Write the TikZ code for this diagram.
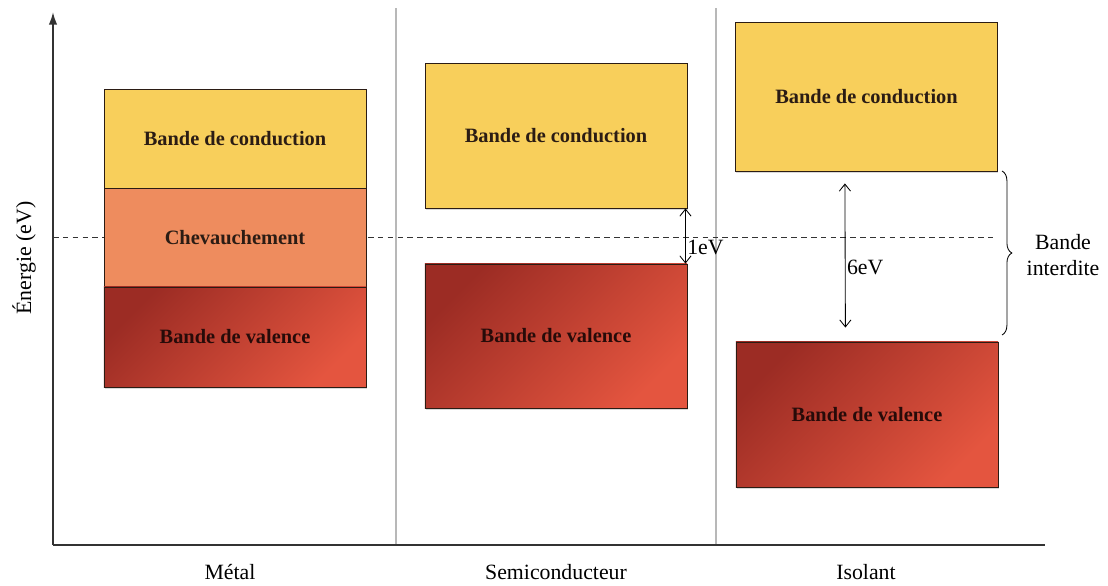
\documentclass[tikz,border=0pt]{standalone}
\usepackage{fontspec}
\setmainfont{Liberation Serif}
\usetikzlibrary{shapes, backgrounds, arrows.meta, shadows, decorations.pathreplacing}

\definecolor{condcol}{HTML}{F8CF5B}
\definecolor{chevcol}{HTML}{EE8C5E}
\definecolor{valtop}{HTML}{9C2C24}
\definecolor{valbot}{HTML}{E4553F}
\definecolor{sepcol}{HTML}{B8B8B8}
\definecolor{inkcol}{HTML}{2B1C14}

\begin{document}
\begin{tikzpicture}[x=0.025cm, y=-0.025cm]
        \tikzstyle{every node}=[align=center]
        \tikzstyle{band}=[draw=inkcol, line width=0.6pt, inner sep=0pt, minimum width=6.55cm,
                text=inkcol, font=\fontsize{14.5}{17}\selectfont\bfseries,
                drop shadow={shadow xshift=0.6pt, shadow yshift=-1.6pt, opacity=0.3}]
        \tikzstyle{condband}=[band, fill=condcol]
        \tikzstyle{chevband}=[band, fill=chevcol]
        \tikzstyle{valband}=[band, top color=valtop, bottom color=valbot, shading angle=45, text=black!75!valtop]
        \tikzstyle{label}=[font=\fontsize{15.5}{18}\selectfont]
        \tikzstyle{gap}=[line width=0.6pt, {Straight Barb[length=5pt, width=8pt]}-{Straight Barb[length=5pt, width=8pt]}]

        \useasboundingbox (0,0) rectangle (1108,585);

        \coordinate (O) at (53, 545);
        \coordinate (top) at (53, 12);
        \coordinate (end) at (1045, 545);

        \foreach \x in {396, 716} \draw[sepcol, line width=0.8pt] (\x, 8) -- (\x, 545);

        \draw[black!80, dash pattern=on 4pt off 3pt, line width=0.6pt] (53, 237) -- (993, 237);

        \node at (235, 138.5) [condband, minimum height=2.475cm] (MC) {Bande de conduction};
        \node at (235, 237.5) [chevband, minimum height=2.475cm] (MO) {Chevauchement};
        \node at (235, 337) [valband, minimum height=2.5cm] (MV) {Bande de valence};

        \node at (556, 135.5) [condband, minimum height=3.625cm] (SC) {Bande de conduction};
        \node at (556, 336) [valband, minimum height=3.6cm] (SV) {Bande de valence};

        \node at (866.5, 96.5) [condband, minimum height=3.725cm] (IC) {Bande de conduction};
        \node at (867, 414.5) [valband, minimum height=3.625cm] (IV) {Bande de valence};

        \draw[gap] ([xshift=-0.05cm]SC.south east) -- ([xshift=-0.05cm]SV.north east)
                node[pos=0.7, right, label, inner sep=1pt] (E1) {1eV};
        \draw[gap] ([xshift=-0.54cm, yshift=-0.3cm]IC.south) -- ([xshift=-0.54cm, yshift=0.35cm]IV.north)
                node[pos=0.58, right, label, inner sep=1pt] (E6) {6eV};

        \coordinate (gaptop) at (1002, 171);
        \coordinate (gapbot) at (1002, 335);
        \draw[line width=0.6pt, decorate, decoration={brace, amplitude=7pt}] (gaptop) -- (gapbot);
        \node at (1063, 255) [label] (BI) {Bande\\interdite};

        \draw[black!80, line width=1.4pt] (O) -- (end);
        \draw[black!80, line width=1.2pt, -{Latex[length=9pt, width=6pt]}] (O) -- (top);

        \node at (24, 258) [label, rotate=90] (Y) {Énergie (eV)};
        \node at (230, 572) [label] (metal) {Métal};
        \node at (556, 572) [label] (semi) {Semiconducteur};
        \node at (866, 572) [label] (iso) {Isolant};
\end{tikzpicture}
\end{document}
